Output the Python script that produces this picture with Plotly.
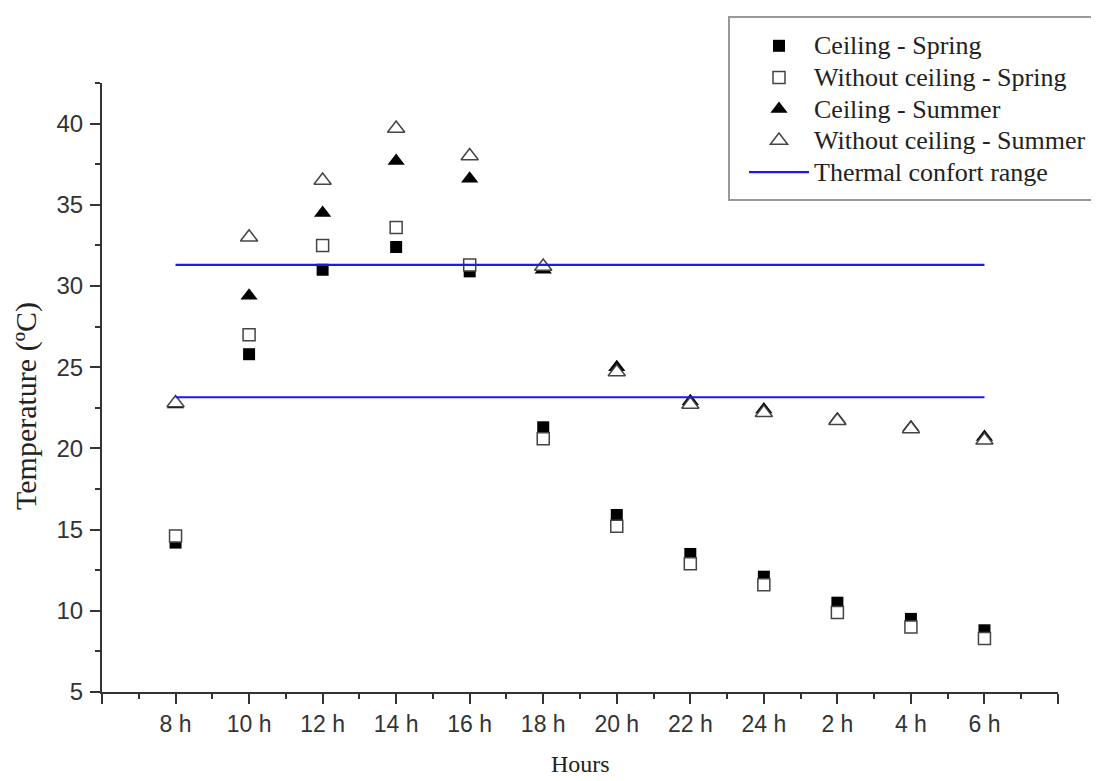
import plotly.graph_objects as go

# ---------------- data ----------------
hours = ["8 h", "10 h", "12 h", "14 h", "16 h", "18 h", "20 h", "22 h", "24 h", "2 h", "4 h", "6 h"]
ceiling_spring = [14.2, 25.8, 31.0, 32.4, 30.9, 21.3, 15.9, 13.5, 12.1, 10.5, 9.5, 8.8]
without_ceiling_spring = [14.6, 27.0, 32.5, 33.6, 31.3, 20.6, 15.2, 12.9, 11.6, 9.9, 9.0, 8.3]
ceiling_summer = [22.7, 29.4, 34.5, 37.7, 36.6, 31.0, 25.0, 22.9, 22.4, 21.8, 21.3, 20.7]
without_ceiling_summer = [22.8, 33.0, 36.5, 39.7, 38.0, 31.2, 24.7, 22.7, 22.2, 21.7, 21.2, 20.5]
comfort_low = 23.15
comfort_high = 31.3

x = list(range(1, len(hours) + 1))

SERIF = "Liberation Serif, Times New Roman, serif"
SANS = "Liberation Sans, Arial, sans-serif"

# The page body has an 8px margin; the figure is placed so that the
# plot lands on the same page pixels as the reference. The figure is a
# little wider than the window so the legend box runs off the right edge,
# as in the reference.
OFF = 8
FIG_W, FIG_H = 1140, 781 - OFF
PL, PR, PT, PB = 102, 1058, 83, 692          # plot area in page pixels


def px_x(p):
    return (p - PL) / (PR - PL)


def px_y(p):
    return (PB - p) / (PB - PT)


def leg(name):
    return '<span style="font-size:26px">' + name + '</span>'


fig = go.Figure()

fig.add_trace(go.Scatter(
    x=x, y=ceiling_spring, mode="markers", name=leg("Ceiling - Spring"),
    marker=dict(symbol="square", size=12, color="#000000", line=dict(width=0)),
    cliponaxis=False))
fig.add_trace(go.Scatter(
    x=x, y=without_ceiling_spring, mode="markers", name=leg("Without ceiling - Spring"),
    marker=dict(symbol="square", size=12, color="#ffffff", line=dict(width=1.5, color="#444444")),
    cliponaxis=False))
fig.add_trace(go.Scatter(
    x=x, y=ceiling_summer, mode="markers", name=leg("Ceiling - Summer"),
    marker=dict(symbol="triangle-up", size=15, color="#000000", line=dict(width=0)),
    cliponaxis=False))
fig.add_trace(go.Scatter(
    x=x, y=without_ceiling_summer, mode="markers", name=leg("Without ceiling - Summer"),
    marker=dict(symbol="triangle-up", size=15, color="#ffffff", line=dict(width=1.5, color="#444444")),
    cliponaxis=False))

line_x = [x[0], x[-1], None, x[0], x[-1]]
line_y = [comfort_low, comfort_low, None, comfort_high, comfort_high]
fig.add_trace(go.Scatter(
    x=line_x, y=line_y, mode="lines", name=leg("Thermal confort range"),
    line=dict(color="#1a1aee", width=2.2), connectgaps=False))

tickvals = list(range(0, len(hours) + 2))
ticktext = [""] + hours + [""]

fig.update_layout(
    width=FIG_W, height=FIG_H,
    margin=dict(l=PL - OFF, r=FIG_W - (PR - OFF), t=PT - OFF, b=FIG_H - (PB - OFF)),
    paper_bgcolor="white", plot_bgcolor="white",
    showlegend=True,
    legend=dict(
        x=px_x(744), xanchor="left",
        y=px_y(25), yanchor="top",
        font=dict(family=SERIF, size=22, color="#222222"),
        bgcolor="rgba(0,0,0,0)", borderwidth=0,
        itemwidth=60,
    ),
    xaxis=dict(
        range=[0, len(hours) + 1], tickmode="array", tickvals=tickvals, ticktext=ticktext,
        showgrid=False, zeroline=False, showline=True, linecolor="#333333", linewidth=2,
        ticks="outside", ticklen=10, tickwidth=2, tickcolor="#333333",
        tickfont=dict(family=SANS, size=23, color="#333333"),
        minor=dict(tickmode="linear", tick0=0, dtick=0.5, ticks="outside", ticklen=5,
                   tickwidth=2, tickcolor="#333333"),
    ),
    yaxis=dict(
        range=[5, 42.5], tickmode="linear", tick0=5, dtick=5,
        showgrid=False, zeroline=False, showline=True, linecolor="#333333", linewidth=2,
        ticks="outside", ticklen=10, tickwidth=2, tickcolor="#333333",
        tickfont=dict(family=SANS, size=24, color="#333333"),
        ticklabelstandoff=2,
        minor=dict(tickmode="linear", tick0=5, dtick=2.5, ticks="outside", ticklen=5,
                   tickwidth=2, tickcolor="#333333"),
    ),
    shapes=[dict(
        type="rect", xref="paper", yref="paper",
        x0=px_x(729), x1=px_x(1125),
        y0=px_y(200), y1=px_y(17),
        line=dict(color="#999999", width=2), fillcolor="rgba(0,0,0,0)", layer="below",
    )],
    annotations=[
        dict(text="Temperature (ºC)", xref="paper", yref="paper",
             x=px_x(26), y=px_y(406), xanchor="center", yanchor="middle",
             textangle=-90, showarrow=False,
             font=dict(family=SERIF, size=30, color="#222222")),
        dict(text="Hours", xref="paper", yref="paper",
             x=px_x(580), y=px_y(764), xanchor="center", yanchor="middle",
             showarrow=False, font=dict(family=SERIF, size=24, color="#222222")),
    ],
)

fig.write_html("out.html")
